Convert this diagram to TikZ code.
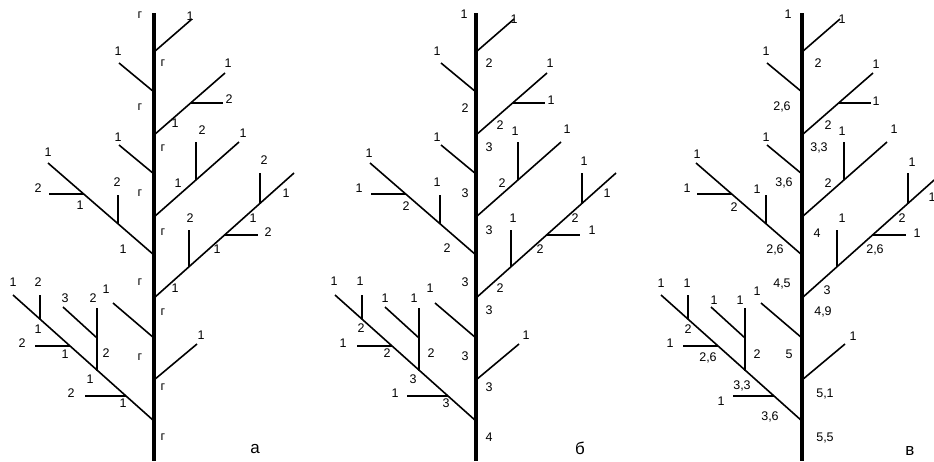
\documentclass[tikz,border=0pt]{standalone}
\usepackage{fontspec}
\setmainfont{Liberation Sans}

\newcommand{\lbfont}{\fontsize{12.5}{13}\selectfont}
\newcommand{\panelfont}{\fontsize{17}{18}\selectfont}

% one shoot: main stem with its side branches
\newcommand{\shoot}[1]{%
  \begin{scope}[shift={(#1,0)}]
    \draw[stem] (0,13) -- (0,461);
    % left side
    \draw[twig] (-35,63) -- (0,92);
    \draw[twig] (-35,145) -- (0,174);
    \draw[twig] (-106,163) -- (0,255);
    \draw[twig] (-105,194) -- (-70,194);
    \draw[twig] (-36,195) -- (-36,224);
    \draw[twig] (-41,303) -- (0,338);
    \draw[twig] (-141,295) -- (0,421);
    \draw[twig] (-114,295) -- (-114,319);
    \draw[twig] (-119,346) -- (-84,346);
    \draw[twig] (-91,307) -- (-57,338);
    \draw[twig] (-57,308) -- (-57,371);
    \draw[twig] (-69,396) -- (-28,396);
    % right side
    \draw[twig] (0,52) -- (38,19);
    \draw[twig] (0,135) -- (71,73);
    \draw[twig] (37,103) -- (69,103);
    \draw[twig] (0,217) -- (85,142);
    \draw[twig] (42,142) -- (42,180);
    \draw[twig] (0,298) -- (140,173);
    \draw[twig] (106,173) -- (106,203);
    \draw[twig] (71,235) -- (104,235);
    \draw[twig] (35,230) -- (35,267);
    \draw[twig] (0,380) -- (43,344);
  \end{scope}}

\begin{document}
\begin{tikzpicture}[x=1pt, y=-1pt,
  stem/.style={line width=4.4pt},
  twig/.style={line width=1.6pt},
  lbl/.style={font=\lbfont, inner sep=0pt},
  panel/.style={font=\panelfont, inner sep=0pt}]
\useasboundingbox (0,0) rectangle (934,461);
\clip (0,0) rectangle (934,461);

\shoot{154}
\shoot{476}
\shoot{802}

% panel a
\begin{scope}[shift={(154,0)}]
\foreach \x/\y/\t [count=\i] in {-14/15/г, -36/51/1, -36/137/1, -14/107/г, -14/193/г,
    -14/282/г, -14/357/г, 9/63/г, 9/148/г, 9/232/г, 9/312/г, 9/387/г, 9/437/г,
    -106/152/1, -116/188/2, -74/205/1, -37/182/2, -31/249/1,
    36/16/1, 74/63/1, 75/99/2, 21/123/1, 89/133/1, 48/130/2, 24/183/1,
    132/193/1, 110/160/2, 99/218/1, 114/232/2, 63/249/1, 36/218/2, 21/288/1,
    47/335/1, -48/289/1,
    -141/282/1, -116/282/2, -116/329/1, -132/343/2, -89/354/1, -89/298/3,
    -61/298/2, -48/353/2, -64/379/1, -83/393/2, -31/403/1}
  \node[lbl] (a\i) at (\x,\y) {\t};
\node[panel] (pa) at (101,449) {а};
\end{scope}

% panel b
\begin{scope}[shift={(476,0)}]
\foreach \x/\y/\t [count=\i] in {-12/14/1, -39/51/1, -39/137/1, -11/108/2, -11/193/3,
    -11/282/3, -11/356/3, 13/63/2, 13/147/3, 13/230/3, 13/310/3, 13/387/3, 13/437/4,
    -107/153/1, -117/188/1, -70/206/2, -39/182/1, -29/248/2,
    38/19/1, 74/63/1, 75/100/1, 24/125/2, 91/129/1, 39/131/1, 26/183/2,
    131/193/1, 108/161/1, 99/218/2, 116/230/1, 64/249/2, 37/218/1, 24/288/2,
    50/335/1, -46/288/1,
    -142/281/1, -116/281/1, -115/328/2, -133/343/1, -89/353/2, -91/298/1,
    -62/298/1, -45/353/2, -63/379/3, -81/393/1, -30/403/3}
  \node[lbl] (b\i) at (\x,\y) {\t};
\node[panel] (pb) at (104,448) {б};
\end{scope}

% panel v
\begin{scope}[shift={(802,0)}]
\foreach \x/\y/\t [count=\i] in {-14/14/1, -36/51/1, -36/137/1, -20/107/{2,6}, -18/183/{3,6},
    -20/284/{4,5}, -13/354/5, 16/63/2, 17/148/{3,3}, 15/233/4, 21/312/{4,9}, 23/394/{5,1}, 23/438/{5,5},
    -105/154/1, -115/188/1, -68/207/2, -45/189/1, -27/250/{2,6},
    40/19/1, 74/64/1, 74/101/1, 26/125/2, 92/129/1, 40/131/1, 26/183/2,
    130/197/1, 110/162/1, 100/218/2, 115/233/1, 73/250/{2,6}, 40/218/1, 25/290/3,
    51/336/1, -45/291/1,
    -141/283/1, -115/283/1, -114/329/2, -132/343/1, -94/358/{2,6}, -88/300/1,
    -62/300/1, -45/354/2, -60/386/{3,3}, -81/401/1, -32/417/{3,6}}
  \node[lbl] (v\i) at (\x,\y) {\t};
\node[panel] (pv) at (108,451) {в};
\end{scope}
\end{tikzpicture}
\end{document}
